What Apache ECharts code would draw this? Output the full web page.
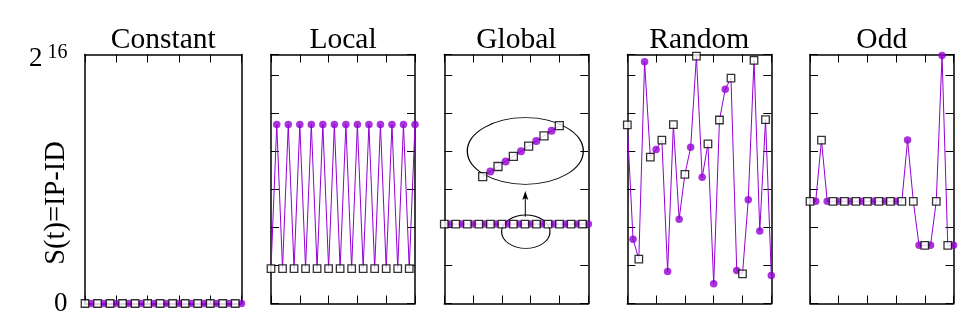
<!DOCTYPE html>
<html><head><meta charset="utf-8">
<script src="https://cdn.jsdelivr.net/npm/echarts@6/dist/echarts.min.js"></script>
<style>html,body{margin:0;padding:0;background:#fff}#c{width:976px;height:331px}</style>
</head><body><div id="c"></div>
<script>
// ---------- data ----------
const panelTitles = ['Constant', 'Local', 'Global', 'Random', 'Odd'];
const yAxisTitle = 'S(t)=IP-ID';
const yMax = 65536;           // 2^16
const xMax = 25;              // 26 probes: squares at even t, circles at odd t

const constantSquares = [0, 0, 0, 0, 0, 0, 0, 0, 0, 0, 0, 0, 0];
const constantCircles = [0, 0, 0, 0, 0, 0, 0, 0, 0, 0, 0, 0, 0];

const localSquares = [9200, 9200, 9200, 9200, 9200, 9200, 9200, 9200, 9200, 9200, 9200, 9200, 9200];
const localCircles = [47100, 47100, 47100, 47100, 47100, 47100, 47100, 47100, 47100, 47100, 47100, 47100, 47100];

const globalSquares = [20900, 20900, 20900, 20900, 20900, 20900, 20900, 20900, 20900, 20900, 20900, 20900, 20900];
const globalCircles = [20900, 20900, 20900, 20900, 20900, 20900, 20900, 20900, 20900, 20900, 20900, 20900, 20900];

const randomSquares = [47000, 11700, 38500, 43000, 47100, 34000, 65100, 42000, 48300, 59300, 7800, 64000, 48400];
const randomCircles = [16900, 63600, 40500, 8400, 22200, 41100, 33200, 5200, 56400, 8700, 27300, 19100, 7400];

const oddSquares = [26900, 43000, 26900, 26900, 26900, 26900, 26900, 26900, 26900, 26900, 15300, 26900, 15300];
const oddCircles = [26900, 26900, 26900, 26900, 26900, 26900, 26900, 26900, 43000, 15300, 15300, 65300, 15300];

// zoomed-in inset of the Global counter (consecutive increments)
const insetSquares = [20900, 20902, 20904, 20906, 20908, 20910];
const insetCircles = [20901, 20903, 20905, 20907, 20909];

// ---------- chart ----------
const PURPLE = '#9400d3';
const FONT = 'Liberation Serif';
const panels = [
  [constantSquares, constantCircles],
  [localSquares, localCircles],
  [globalSquares, globalCircles],
  [randomSquares, randomCircles],
  [oddSquares, oddCircles]
];
const boxes = [[85, 156.5], [271, 144], [444.3, 144], [627.3, 144], [810, 143.5]];
const TOP = 54.5, H = 249;

function interleave(sq, ci) {
  const out = [];
  for (let j = 0; j < sq.length || j < ci.length; j++) {
    if (j < sq.length) out.push([2 * j, sq[j]]);
    if (j < ci.length) out.push([2 * j + 1, ci[j]]);
  }
  return out;
}

const grid = boxes.map(b => ({left: b[0], top: TOP, width: b[1], height: H, show: false}));
grid.push({left: 482.7, top: 125.7, width: 76.6, height: 51, show: false});

const axisLine = {show: true, onZero: false, lineStyle: {color: '#000', width: 1.5}};
const xAxis = [], yAxis = [], series = [], title = [];

const squareStyle = {color: '#fff', borderColor: '#000', borderWidth: 1.3};

panels.forEach((p, i) => {
  ['bottom', 'top'].forEach(pos => xAxis.push({
    type: 'value', gridIndex: i, position: pos, min: 0, max: xMax, interval: 5,
    axisLine: axisLine,
    axisTick: {show: true, inside: true, length: 8, lineStyle: {color: '#000', width: 1}},
    axisLabel: {show: false}, splitLine: {show: false}
  }));
  ['left', 'right'].forEach((pos, k) => yAxis.push({
    type: 'value', gridIndex: i, position: pos, min: 0, max: yMax,
    interval: i === 0 ? yMax : 10000,
    axisLine: axisLine,
    axisTick: {show: i !== 0, inside: true, length: 8, lineStyle: {color: '#000', width: 1}},
    axisLabel: (i === 0 && k === 0) ? {
      show: true, margin: 17.5,
      // 2^16 drawn as base "2" with superscript "16"
      formatter: v => v === 0 ? '{z|0}' : '{s|16}\n{n|2}',
      rich: {
        z: {fontFamily: FONT, fontSize: 27, color: '#000'},
        s: {fontFamily: FONT, fontSize: 20, lineHeight: 9, padding: [10, 0, 0, 0], color: '#000'},
        n: {fontFamily: FONT, fontSize: 27, lineHeight: 14, padding: [0, 25, 0, 0], color: '#000'}
      }
    } : {show: false},
    splitLine: {show: false}
  }));

  const [sq, ci] = p;
  series.push({
    type: 'line', xAxisIndex: 2 * i, yAxisIndex: 2 * i, data: interleave(sq, ci),
    showSymbol: false, symbol: 'none', lineStyle: {color: PURPLE, width: 1}, z: 2, clip: false, animation: false
  });
  series.push({
    type: 'scatter', xAxisIndex: 2 * i, yAxisIndex: 2 * i,
    data: ci.map((v, j) => [2 * j + 1, v]),
    symbol: 'circle', symbolSize: 7.5, itemStyle: {color: PURPLE}, z: 3, clip: false, animation: false
  });
  series.push({
    type: 'scatter', xAxisIndex: 2 * i, yAxisIndex: 2 * i,
    data: sq.map((v, j) => [2 * j, v]),
    symbol: 'rect', symbolSize: 7.5,
    itemStyle: squareStyle, z: 4, clip: false, animation: false
  });

  title.push({
    text: panelTitles[i], left: boxes[i][0] + boxes[i][1] / 2, textAlign: 'center', top: 25, padding: 0,
    textStyle: {fontFamily: FONT, fontSize: 29.5, fontWeight: 'normal', color: '#000'}
  });
});

// inset axes
xAxis.push({type: 'value', gridIndex: 5, min: 0, max: 10, show: false});
yAxis.push({type: 'value', gridIndex: 5, min: insetSquares[0], max: insetSquares[insetSquares.length - 1], show: false});
const insetIdx = xAxis.length - 1;
series.push({
  type: 'line', xAxisIndex: insetIdx, yAxisIndex: insetIdx, data: interleave(insetSquares, insetCircles),
  showSymbol: false, symbol: 'none', lineStyle: {color: PURPLE, width: 1}, z: 2, clip: false, animation: false
});
series.push({
  type: 'scatter', xAxisIndex: insetIdx, yAxisIndex: insetIdx,
  data: insetCircles.map((v, j) => [2 * j + 1, v]),
  symbol: 'circle', symbolSize: 8, itemStyle: {color: PURPLE}, z: 3, clip: false, animation: false
});
series.push({
  type: 'scatter', xAxisIndex: insetIdx, yAxisIndex: insetIdx,
  data: insetSquares.map((v, j) => [2 * j, v]),
  symbol: 'rect', symbolSize: 8,
  itemStyle: squareStyle, z: 4, clip: false, animation: false
});

const stroke = {fill: null, stroke: '#000', lineWidth: 1, strokeNoScale: true};
const graphic = [
  {type: 'text', x: 57, y: 203, rotation: Math.PI / 2,
   style: {text: yAxisTitle, font: '28.5px "Liberation Serif"', fill: '#000', align: 'center', verticalAlign: 'middle'}},
  {type: 'circle', x: 525.3, y: 151, scaleX: 58, scaleY: 33.3, shape: {cx: 0, cy: 0, r: 1}, style: stroke, z: 1},
  {type: 'circle', x: 525.8, y: 231.7, scaleX: 24.2, scaleY: 16.7, shape: {cx: 0, cy: 0, r: 1}, style: stroke, z: 1},
  {type: 'line', shape: {x1: 525.3, y1: 216.7, x2: 525.3, y2: 196}, style: {stroke: '#000', lineWidth: 1}, z: 1},
  {type: 'polygon', shape: {points: [[525.3, 191], [522.3, 200], [525.3, 198], [528.3, 200]]}, style: {fill: '#000'}, z: 1}
];

const chart = echarts.init(document.getElementById('c'));
chart.setOption({
  animation: false,
  backgroundColor: '#fff',
  title, grid, xAxis, yAxis, series, graphic
});
</script>
</body></html>
